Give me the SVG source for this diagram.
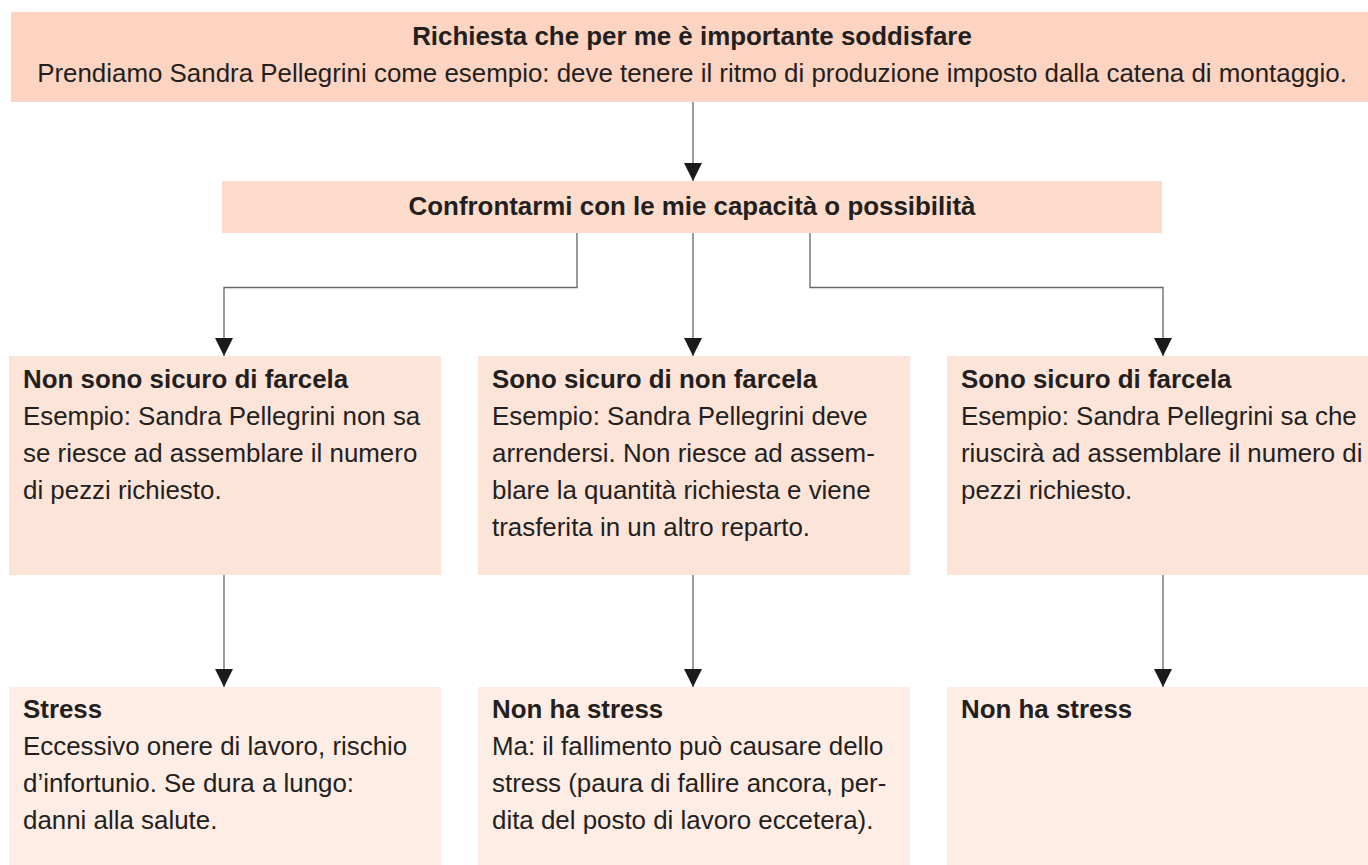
<svg xmlns="http://www.w3.org/2000/svg" width="1368" height="865" viewBox="0 0 1368 865">
<style>
text{font-family:"Liberation Sans",Arial,sans-serif;font-size:25.9px;fill:#231f20}
.b{font-weight:bold}
.c{text-anchor:middle}
.l0{fill:#fdd4c1}
.l1{fill:#fddccb}
.l2{fill:#fde4d9}
.l3{fill:#feede5}
.conn{fill:none;stroke:#666;stroke-width:1.3}
</style>
<defs>
<marker id="ah" markerUnits="userSpaceOnUse" markerWidth="18" markerHeight="18" refX="18" refY="9" orient="auto" viewBox="0 0 18 18">
<path d="M0,0 L18,9 L0,18 z" fill="#1a1a1a"/>
</marker>
</defs>
<rect width="1368" height="865" fill="#fff"/>
<g id="connectors">
<path class="conn" d="M693,102 V181" marker-end="url(#ah)"/>
<path class="conn" d="M577,233 V287.5 H224 V356" marker-end="url(#ah)"/>
<path class="conn" d="M693,233 V356" marker-end="url(#ah)"/>
<path class="conn" d="M810,233 V287.5 H1163 V356" marker-end="url(#ah)"/>
<path class="conn" d="M224,575 V687" marker-end="url(#ah)"/>
<path class="conn" d="M693,575 V687" marker-end="url(#ah)"/>
<path class="conn" d="M1163,575 V687" marker-end="url(#ah)"/>
</g>
<g id="n-richiesta">
<rect class="l0" x="11" y="12" width="1362" height="90"/>
<text class="b c" x="692" y="45">Richiesta che per me è importante soddisfare</text>
<text class="c" x="692" y="82">Prendiamo Sandra Pellegrini come esempio: deve tenere il ritmo di produzione imposto dalla catena di montaggio.</text>
</g>
<g id="n-confronto">
<rect class="l1" x="222" y="181" width="940" height="52"/>
<text class="b c" x="692" y="215">Confrontarmi con le mie capacità o possibilità</text>
</g>
<g id="n-non-sicuro">
<rect class="l2" x="9" y="356" width="432" height="219"/>
<text class="b" x="23" y="388">Non sono sicuro di farcela</text>
<text x="23" y="425">Esempio: Sandra Pellegrini non sa</text>
<text x="23" y="462">se riesce ad assemblare il numero</text>
<text x="23" y="499">di pezzi richiesto.</text>
</g>
<g id="n-sicuro-non">
<rect class="l2" x="478" y="356" width="432" height="219"/>
<text class="b" x="492" y="388">Sono sicuro di non farcela</text>
<text x="492" y="425">Esempio: Sandra Pellegrini deve</text>
<text x="492" y="462">arrendersi. Non riesce ad assem-</text>
<text x="492" y="499">blare la quantità richiesta e viene</text>
<text x="492" y="536">trasferita in un altro reparto.</text>
</g>
<g id="n-sicuro">
<rect class="l2" x="947" y="356" width="432" height="219"/>
<text class="b" x="961" y="388">Sono sicuro di farcela</text>
<text x="961" y="425">Esempio: Sandra Pellegrini sa che</text>
<text x="961" y="462">riuscirà ad assemblare il numero di</text>
<text x="961" y="499">pezzi richiesto.</text>
</g>
<g id="n-stress">
<rect class="l3" x="9" y="687" width="432" height="178"/>
<text class="b" x="23" y="718">Stress</text>
<text x="23" y="755">Eccessivo onere di lavoro, rischio</text>
<text x="23" y="792">d’infortunio. Se dura a lungo:</text>
<text x="23" y="829">danni alla salute.</text>
</g>
<g id="n-nostress1">
<rect class="l3" x="478" y="687" width="432" height="178"/>
<text class="b" x="492" y="718">Non ha stress</text>
<text x="492" y="755">Ma: il fallimento può causare dello</text>
<text x="492" y="792">stress (paura di fallire ancora, per-</text>
<text x="492" y="829">dita del posto di lavoro eccetera).</text>
</g>
<g id="n-nostress2">
<rect class="l3" x="947" y="687" width="432" height="178"/>
<text class="b" x="961" y="718">Non ha stress</text>
</g>
</svg>
